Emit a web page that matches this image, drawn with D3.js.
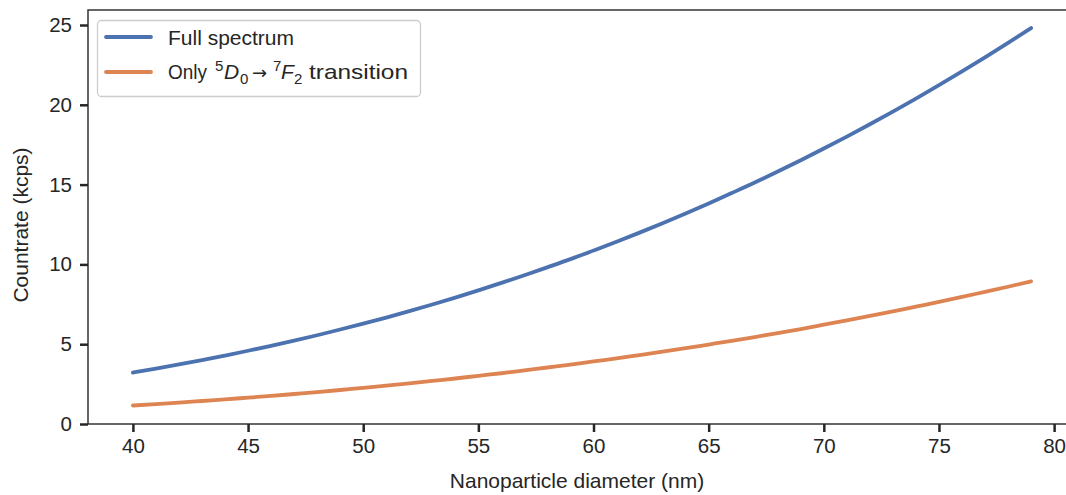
<!DOCTYPE html>
<html>
<head>
<meta charset="utf-8">
<script src="https://cdnjs.cloudflare.com/ajax/libs/d3/7.8.5/d3.min.js"></script>
<style>
  body { margin: 0; background: #fff; }
  svg { display: block; font-family: "Liberation Sans", Arial, sans-serif; }
</style>
</head>
<body>
<div id="chart"></div>
<script>
var width = 1066;
var height = 495;
var margin = {top: 10, left: 88, right: -10, bottom: 71};
var fontSize = "21px";

var diameters = d3.range(40, 80);
var fullSpectrum = [3.22, 3.47, 3.73, 4.00, 4.29, 4.59, 4.90, 5.22, 5.56, 5.92,
  6.29, 6.67, 7.07, 7.49, 7.92, 8.37, 8.84, 9.32, 9.82, 10.33,
  10.87, 11.42, 11.99, 12.58, 13.19, 13.82, 14.47, 15.13, 15.82, 16.53,
  17.26, 18.01, 18.78, 19.57, 20.39, 21.23, 22.09, 22.97, 23.88, 24.81];
var onlyTransition = [1.16, 1.25, 1.34, 1.44, 1.54, 1.65, 1.76, 1.88, 2.00, 2.13,
  2.27, 2.40, 2.55, 2.70, 2.85, 3.02, 3.18, 3.36, 3.54, 3.72,
  3.92, 4.11, 4.32, 4.53, 4.75, 4.98, 5.21, 5.45, 5.70, 5.95,
  6.22, 6.49, 6.77, 7.05, 7.35, 7.65, 7.96, 8.28, 8.60, 8.94];
var xTicks = [40, 45, 50, 55, 60, 65, 70, 75, 80];
var yTicks = [0, 5, 10, 15, 20, 25];

var series = [
  {name: "full", values: fullSpectrum, color: "#4c72b0"},
  {name: "only", values: onlyTransition, color: "#dd8452"}
];

var svg = d3.select("#chart")
  .append("svg")
  .attr("width", width)
  .attr("height", height);

// matplotlib style 5% margin on x, y starts at 0
var xScale = d3.scaleLinear()
  .domain([38.05, 80.95])
  .range([margin.left, width - margin.right]);

var yScale = d3.scaleLinear()
  .domain([0, 25.94])
  .range([height - margin.bottom, margin.top]);

var xAxis = svg.append("g")
  .attr("transform", `translate(0,${height - margin.bottom})`)
  .call(d3.axisBottom(xScale).tickValues(xTicks).tickSize(8).tickPadding(6));

var yAxis = svg.append("g")
  .attr("transform", `translate(${margin.left},0)`)
  .call(d3.axisLeft(yScale).tickValues(yTicks).tickSize(8).tickPadding(8));

svg.selectAll(".domain").remove();
svg.selectAll(".tick line").attr("stroke", "#262626").attr("stroke-width", 2.5);
svg.selectAll(".tick text").attr("fill", "#262626")
  .attr("font-size", "20.5px")
  .attr("font-family", "'Liberation Sans', Arial, sans-serif");

// frame
svg.append("rect")
  .attr("x", margin.left)
  .attr("y", margin.top)
  .attr("width", xScale.range()[1] - margin.left)
  .attr("height", yScale.range()[0] - margin.top)
  .attr("fill", "none")
  .attr("stroke", "#262626")
  .attr("stroke-width", 1.4);

var line = d3.line()
  .x(function(d, i) { return xScale(diameters[i]); })
  .y(function(d) { return yScale(d); })
  .curve(d3.curveMonotoneX);

svg.selectAll(".series")
  .data(series)
  .enter()
  .append("path")
    .attr("class", "series")
    .attr("d", function(d) { return line(d.values); })
    .attr("fill", "none")
    .attr("stroke", function(d) { return d.color; })
    .attr("stroke-width", 3.8)
    .attr("stroke-linecap", "round");

// axis labels
svg.append("text")
  .attr("x", 577)
  .attr("y", 488)
  .attr("text-anchor", "middle")
  .attr("fill", "#262626")
  .style("font-size", fontSize)
  .text("Nanoparticle diameter (nm)");

svg.append("text")
  .attr("transform", "translate(28,225) rotate(-90)")
  .attr("text-anchor", "middle")
  .attr("fill", "#262626")
  .style("font-size", fontSize)
  .text("Countrate (kcps)");

// legend
var legend = svg.append("g");
legend.append("rect")
  .attr("x", 97.5).attr("y", 20.5)
  .attr("width", 323).attr("height", 76)
  .attr("rx", 4)
  .attr("fill", "#fff").attr("fill-opacity", 0.8)
  .attr("stroke", "#cccccc").attr("stroke-width", 1.3);

var rows = [37, 72];
series.forEach(function(s, i) {
  legend.append("line")
    .attr("x1", 106).attr("x2", 151)
    .attr("y1", rows[i]).attr("y2", rows[i])
    .attr("stroke", s.color).attr("stroke-width", 3.8)
    .attr("stroke-linecap", "round");
});

legend.append("text")
  .attr("x", 168).attr("y", rows[0] + 8)
  .attr("fill", "#262626").style("font-size", fontSize)
  .text("Full spectrum");

// mathtext-like label, pieces placed like the original
var base = rows[1] + 7;
var parts = [
  {s: "Only", x: 168, dy: 0, len: 39},
  {s: "5", x: 215, dy: -8, small: true},
  {s: "D", x: 224, dy: 0, italic: true},
  {s: "0", x: 240, dy: 5, small: true},
  {s: "\u2192", x: 252, dy: 0, arrow: true},
  {s: "7", x: 273, dy: -8, small: true},
  {s: "F", x: 281, dy: 0, italic: true},
  {s: "2", x: 294, dy: 5, small: true},
  {s: "transition", x: 309, dy: 0, len: 99}
];
parts.forEach(function(p) {
  var el = legend.append("text")
    .attr("x", p.x).attr("y", base + p.dy)
    .attr("fill", "#262626")
    .style("font-size", p.small ? "15px" : (p.arrow ? "18px" : fontSize))
    .style("font-style", p.italic ? "italic" : "normal")
    .text(p.s);
  if (p.arrow) el.attr("font-family", "'DejaVu Sans', sans-serif");
  if (p.len) el.attr("textLength", p.len).attr("lengthAdjust", "spacingAndGlyphs");
});
</script>
</body>
</html>
